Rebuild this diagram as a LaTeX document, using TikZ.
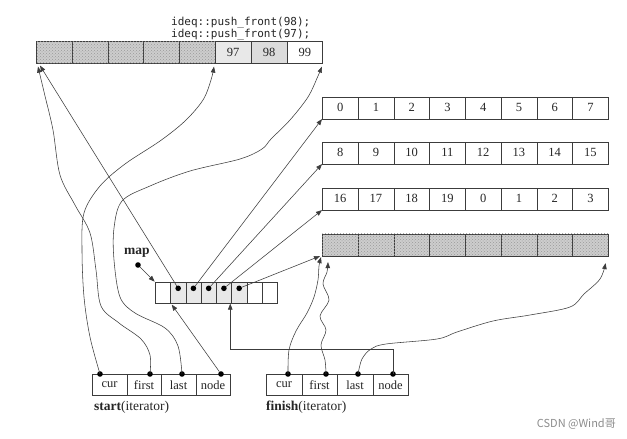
\documentclass[tikz,border=0pt]{standalone}
\usepackage{fontspec}
\setmainfont{Liberation Serif}
\newfontfamily\codefont{DejaVu Sans Mono}
\newfontfamily\cjkfont{Noto Sans CJK SC}
\usetikzlibrary{arrows.meta,patterns}
\definecolor{hatchgray}{RGB}{205,205,205}
\definecolor{lightcell}{RGB}{232,232,232}
\definecolor{midcell}{RGB}{220,220,220}
\definecolor{linegray}{RGB}{60,60,60}
\begin{document}
\begin{tikzpicture}[x=1pt,y=-1pt,
  cell/.style={draw=linegray,line width=0.6pt,minimum height=22pt,inner sep=0pt,
    anchor=north west,font=\fontsize{12.5}{13}\selectfont,text=black!85},
  hatch/.style={fill=hatchgray,postaction={pattern=crosshatch dots,pattern color=black!40}},
  link/.style={draw=linegray,line width=0.55pt,-{Triangle[length=6pt,width=4.5pt]}},
  dot/.style={circle,fill=black,inner sep=0pt,minimum size=5.6pt},
  lbl/.style={font=\fontsize{13.5}{15}\selectfont,text=black!85,inner sep=0pt},
  code/.style={font=\codefont\fontsize{11}{12}\selectfont,text=black!85,inner sep=0pt,anchor=west}
]
\useasboundingbox[fill=white] (0,0) rectangle (627,439);

% code lines
\node[code] (c1) at (171,23) {ideq::push\_front(98);};
\node[code] (c2) at (171,35) {ideq::push\_front(97);};

% top buffer
\foreach \i in {1,...,5}
  \node[cell,hatch,minimum width=35.8pt] (tb\i) at ({36+(\i-1)*35.8},41) {};
\node[cell,fill=lightcell,minimum width=35.8pt] (tb6) at (215,41) {97};
\node[cell,fill=midcell,minimum width=35.8pt] (tb7) at (250.8,41) {98};
\node[cell,minimum width=35.8pt] (tb8) at (286.6,41) {99};

% buffers
\foreach \t [count=\i] in {0,...,7}
  \node[cell,minimum width=35.75pt] (ba\i) at ({322+(\i-1)*35.75},96.5) {\t};
\foreach \t [count=\i] in {8,...,15}
  \node[cell,minimum width=35.75pt] (bb\i) at ({322+(\i-1)*35.75},141.5) {\t};
\foreach \t [count=\i] in {16,17,18,19,0,1,2,3}
  \node[cell,minimum width=35.75pt] (bc\i) at ({322+(\i-1)*35.75},187.5) {\t};
\foreach \i in {1,...,8}
  \node[cell,hatch,minimum width=35.75pt] (bd\i) at ({322+(\i-1)*35.75},233.5) {};

% map
\foreach \i in {1,7,8}
  \node[cell,minimum width=15.25pt,minimum height=21pt] (m\i) at ({155+(\i-1)*15.25},282) {};
\foreach \i in {2,...,6}
  \node[cell,fill=lightcell,minimum width=15.25pt,minimum height=21pt] (m\i) at ({155+(\i-1)*15.25},282) {};
\foreach \i in {2,...,6}
  \node[dot] (md\i) at ([yshift=4.5pt]m\i.center) {};

\node[lbl,font=\bfseries\fontsize{13.5}{14}\selectfont] (maplbl) at (137,253) {map};
\node[dot] (mapdot) at (138,265) {};
\draw[link,shorten >=0.5pt] (mapdot) -- (m1.north west);

% map links
\draw[link] (md2) -- ([xshift=4pt,yshift=-2pt]tb1.south west);
\draw[link] (md3) -- (ba1.south west);
\draw[link] (md4) -- (bb1.south west);
\draw[link] (md5) -- (bc1.south west);
\draw[link] (md6) -- ([xshift=-2pt]bd1.south west);

% start iterator
\foreach \t [count=\i] in {cur,first,last,node}
  \node[cell,minimum width=34.5pt,minimum height=21pt] (s\i) at ({92+(\i-1)*34.5},374) {\t};
\node[dot] (sd1) at (100,374) {};
\node[dot] (sd2) at (150,374) {};
\node[dot] (sd3) at (182,374) {};
\node[dot] (sd4) at (221,374) {};
\node[lbl,anchor=west] (slbl) at (94,407) {\textbf{start}(iterator)};

% finish iterator
\foreach \t [count=\i] in {cur,first,last,node}
  \node[cell,minimum width=35.5pt,minimum height=21pt] (f\i) at ({266+(\i-1)*35.5},374) {\t};
\node[dot] (fd1) at (288,374) {};
\node[dot] (fd2) at (326,374) {};
\node[dot] (fd3) at (358,374) {};
\node[dot] (fd4) at (393,374) {};
\node[lbl,anchor=west] (flbl) at (266,407) {\textbf{finish}(iterator)};

% start links
\draw[link] plot[smooth,tension=0.55] coordinates {(sd2.center) (150,355) (141,339) (119,323) (101,306) (96,270) (90,233) (75,205) (60,175) (53,130) (45,96) ([xshift=2pt,yshift=-3pt]tb1.south west)};
\draw[link] plot[smooth,tension=0.55] coordinates {(sd1.center) (90,337) (84,297) (82,250) (84,213) (100,186) (125,164) (160,141) (185,121) (203,100) (211,80) ([xshift=-1pt,yshift=-3pt]tb6.south west)};
\draw[link] plot[smooth,tension=0.55] coordinates {(sd3.center) (178,346) (165,328) (135,313) (120,297) (114,260) (114,228) (122,201) (150,186) (190,171) (240,159) (262,149) (271,139) (290,120) (308,97) (318,76) ([xshift=-1pt,yshift=-3pt]tb8.south east)};
\draw[link] (sd4) -- ([xshift=1.5pt,yshift=-1pt]m2.south west);

% finish links
\draw[link] plot[smooth,tension=0.55] coordinates {(fd1.center) (289,350) (296,331) (307,313) (314,297) (318,280) (319,266) ([xshift=-1pt,yshift=-1pt]bd1.south west)};
\draw[link] plot[smooth,tension=0.55] coordinates {(fd2.center) (325,360) (321,345) (326,330) (320,316) (329,300) (323,284) (327,272) ([xshift=6pt,yshift=-6pt]bd1.south west)};
\draw[link] plot[smooth,tension=0.55] coordinates {(fd3.center) (362,359) (371,349) (386,344) (437,339) (457,332) (493,321) (530,315) (570,307) (584,294) (600,279) ([xshift=-3pt,yshift=-7pt]bd8.south east)};
\coordinate (mtarget) at ([xshift=-1pt]m6.south west);
\draw[link] (fd4.center) -- ++(0,-25) -| (mtarget);

% watermark
\node[anchor=east,text=black!45,font=\cjkfont\fontsize{11}{12}\selectfont,inner sep=0pt] (wm) at (616,424) {CSDN @Wind哥};
\end{tikzpicture}
\end{document}
